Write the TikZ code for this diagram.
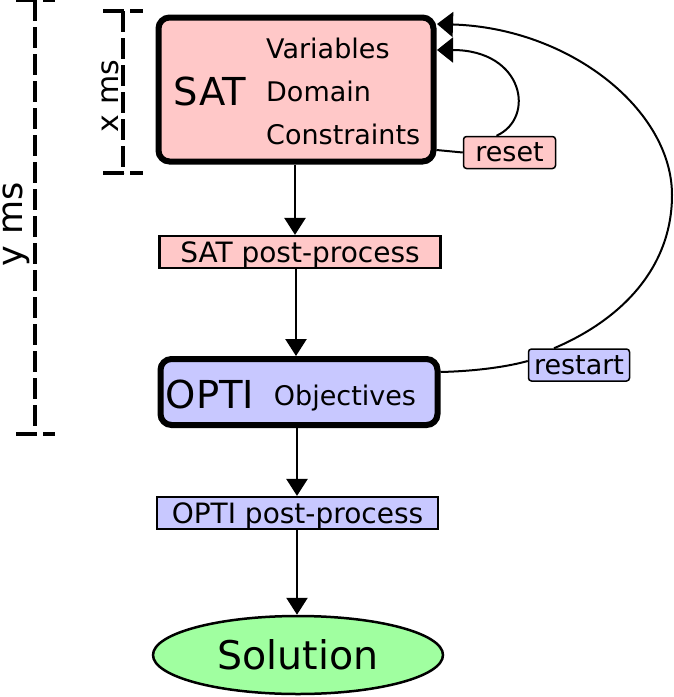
\documentclass[tikz,border=0pt]{standalone}
\usepackage{fontspec}
\setmainfont{DejaVu Sans}
\usetikzlibrary{arrows.meta,shapes.geometric}
\definecolor{satpink}{RGB}{255,200,200}
\definecolor{optiblue}{RGB}{200,200,255}
\definecolor{solgreen}{RGB}{160,255,160}

\begin{document}
\begin{tikzpicture}[x=1pt,y=-1pt,
  bigbox/.style={draw, line width=6pt, rounded corners=11pt, inner sep=0pt},
  postbox/.style={draw, line width=2.2pt, inner sep=0pt, minimum width=281pt,
    minimum height=32pt, text depth=0pt, font=\fontsize{28}{32}\selectfont},
  tag/.style={draw, line width=1.5pt, rounded corners=3pt, inner sep=0pt,
    minimum height=32pt, text depth=0pt, font=\fontsize{27}{31}\selectfont},
  big/.style={inner sep=0pt, font=\fontsize{38.5}{44}\selectfont},
  med/.style={inner sep=0pt, font=\fontsize{27}{32}\selectfont},
  flow/.style={line width=2.5pt, -{Triangle[length=17pt,width=21pt]}},
  back/.style={line width=2pt, -{Triangle[length=16pt,width=25pt]}},
  link/.style={line width=2pt},
  dim/.style={line width=3.5pt, dash pattern=on 21pt off 6pt},
]
\useasboundingbox (0,0) rectangle (674,697);

% SAT stage
\node[bigbox, fill=satpink, minimum width=275pt, minimum height=144pt] (sat) at (296,89.5) {};
\node[big, anchor=base] (sattitle) at (210,105) {SAT};
\node[med, anchor=base west] (satvar) at (266,58) {Variables};
\node[med, anchor=base west] (satdom) at (266,101) {Domain};
\node[med, anchor=base west] (satcon) at (266,144) {Constraints};
\node[postbox, fill=satpink] (satpost) at (300,252) {SAT post-process};

% OPTI stage
\node[bigbox, fill=optiblue, minimum width=277pt, minimum height=66pt] (opti) at (299,392) {};
\node[big, anchor=base] (optititle) at (210,408) {OPTI};
\node[med, anchor=base] (optiobj) at (345,405) {Objectives};
\node[postbox, fill=optiblue] (optipost) at (297.5,513) {OPTI post-process};

% result
\node[draw, ellipse, line width=2.5pt, fill=solgreen, minimum width=290pt,
  minimum height=78pt, inner sep=0pt, font=\fontsize{39.5}{44}\selectfont] (sol) at (298,655) {Solution};

% loop labels
\node[tag, fill=satpink, minimum width=92pt] (reset) at (509.5,152.5) {reset};
\node[tag, fill=optiblue, minimum width=101pt] (restart) at (579,365) {restart};

% main flow
\draw[flow] ([xshift=-1pt]sat.south) -- ([xshift=-5pt]satpost.north);
\draw[flow] ([xshift=-4pt]satpost.south) -- ([xshift=-3pt]opti.north);
\draw[flow] ([xshift=-2pt]opti.south) -- ([xshift=-0.5pt]optipost.north);
\draw[flow] ([xshift=-0.5pt]optipost.south) -- ([xshift=-1pt]sol.north);

% feedback loops
\coordinate (resetend) at (437,50);
\coordinate (restartend) at (437,24);
\draw[link] (sat.east |- 0,150) -- (reset.west);
\draw[back] ([xshift=-13pt]reset.north) .. controls (536,118) and (524,50) .. (resetend);
\draw[link] (opti.east |- 0,372) .. controls (480,371) and (510,366) .. ([yshift=4pt]restart.west);
\draw[back] ([xshift=-25pt]restart.north) .. controls (625,318) and (672,265) .. (672,195)
  .. controls (672,110) and (570,28) .. (restartend);

% timing brackets
\draw[dim] (123,11) -- (123,173);
\draw[dim] (103,11) -- (143,11);
\draw[dim] (103,173) -- (143,173);
\node[rotate=90, anchor=base, inner sep=0pt, font=\fontsize{30}{34}\selectfont] (xlabel) at (118.5,96) {x ms};

\draw[dim] (35,0) -- (35,434);
\draw[dim] (16,0) -- (55,0);
\draw[dim] (16,434) -- (55,434);
\node[rotate=90, anchor=base, inner sep=0pt, font=\fontsize{35}{40}\selectfont] (ylabel) at (22,224) {y ms};
\end{tikzpicture}
\end{document}
